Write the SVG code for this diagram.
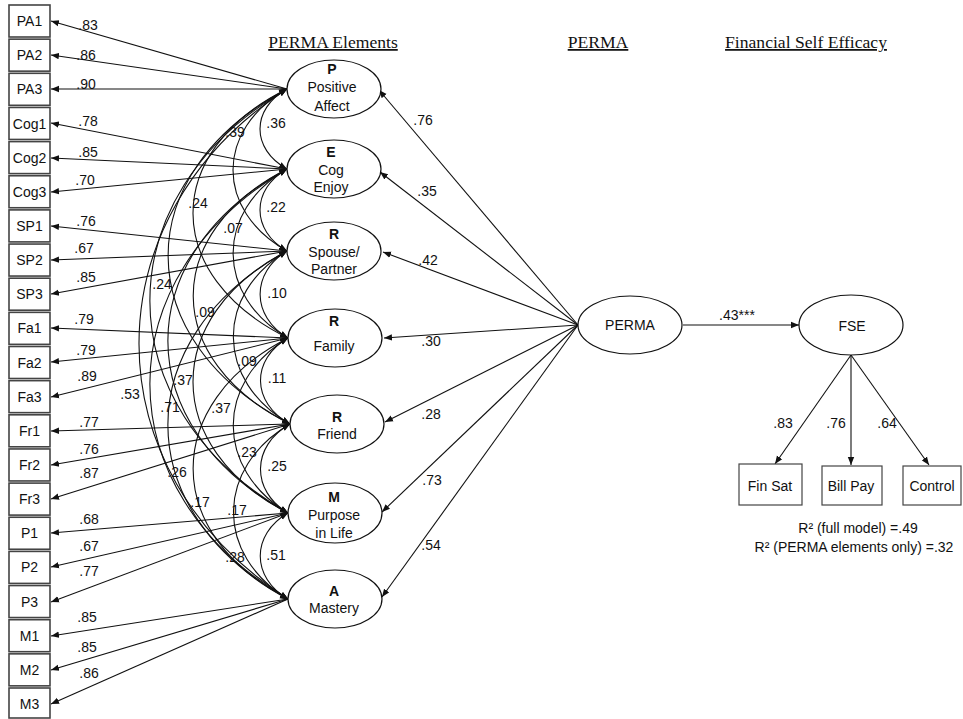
<svg xmlns="http://www.w3.org/2000/svg" width="963" height="719" viewBox="0 0 963 719">
<style>
text{font-family:"Liberation Sans",Arial,sans-serif;font-size:14px;fill:#111}
.hd{font-family:"Liberation Serif","Times New Roman",serif;font-size:17.6px;text-decoration:underline;text-anchor:middle}
.c{text-anchor:middle}
.b{font-weight:bold}
.box{fill:#fff;stroke:#444;stroke-width:1.6}
.el{fill:#fff;stroke:#111;stroke-width:1.2}
.ln{fill:none;stroke:#111;stroke-width:1.1}
.ld{marker-end:url(#ah)}
.cv{marker-start:url(#ah);marker-end:url(#ah)}
</style>
<defs>
<marker id="ah" viewBox="0 0 10 10" refX="10" refY="5" markerWidth="8" markerHeight="8" markerUnits="userSpaceOnUse" orient="auto-start-reverse"><path d="M0,1 L10,5 L0,9 z" fill="#111"/></marker>
</defs>
<rect width="963" height="719" fill="#fff"/>
<g id="headers">
<text class="hd" x="333" y="48">PERMA Elements</text>
<text class="hd" x="598" y="48">PERMA</text>
<text class="hd" x="806" y="48">Financial Self Efficacy</text>
</g>
<g id="connectors">
<g id="loadings" class="ln ld">
<path d="M287,89 L51,21"/><path d="M287,89 L51,55"/><path d="M287,89 L51,89"/>
<path d="M287,169 L51,123"/><path d="M287,169 L51,158"/><path d="M287,169 L51,192"/>
<path d="M287,251 L51,226"/><path d="M287,251 L51,260"/><path d="M287,251 L51,294"/>
<path d="M288,338 L51,328"/><path d="M288,338 L51,362"/><path d="M288,338 L51,397"/>
<path d="M290,424 L51,431"/><path d="M290,424 L51,465"/><path d="M290,424 L51,499"/>
<path d="M288,513 L51,533"/><path d="M288,513 L51,567"/><path d="M288,513 L51,602"/>
<path d="M288,599 L51,636"/><path d="M288,599 L51,670"/><path d="M288,599 L51,704"/>
</g>
<g id="covariances" class="ln cv">
<path d="M287,89 C251,109 251,149 287,169"/>
<path d="M287,169 C251,189.5 251,230.5 287,251"/>
<path d="M287,251 C251,272.75 251,316.25 288,338"/>
<path d="M288,338 C251,359.5 251,402.5 290,424"/>
<path d="M290,424 C251,446 251,491 288,513"/>
<path d="M288,513 C251,534.5 251,577.5 288,599"/>
<path d="M287,89 C215,129.5 215,210.5 287,251"/>
<path d="M287,169 C215,211 215,296 288,338"/>
<path d="M287,251 C215,294 215,381 290,424"/>
<path d="M288,338 C215,382 215,469 288,513"/>
<path d="M290,424 C215,468 215,555 288,599"/>
<path d="M287,89 C161.5,151 161.5,276 288,338"/>
<path d="M287,169 C161.5,233 161.5,360 290,424"/>
<path d="M287,251 C161.5,316.5 161.5,447.5 288,513"/>
<path d="M288,338 C161.5,403 161.5,534 288,599"/>
<path d="M287,89 C128,173 128,340 290,424"/>
<path d="M287,169 C128,255 128,427 288,513"/>
<path d="M287,251 C128,338 128,512 288,599"/>
<path d="M287,89 C104,195 104,407 288,513"/>
<path d="M287,169 C104,276.5 104,491.5 288,599"/>
<path d="M287,89 C89.5,216.5 89.5,471.5 288,599"/>
</g>
<g id="structural" class="ln ld">
<path d="M578,325 L379,90"/>
<path d="M578,325 L380,172"/>
<path d="M578,325 L383,252"/>
<path d="M578,325 L384,338"/>
<path d="M578,325 L385,422"/>
<path d="M578,325 L382,512"/>
<path d="M578,325 L382,597"/>
<path d="M683,325 L799,325"/>
<path d="M851,355 L775,464"/>
<path d="M851,355 L851,465"/>
<path d="M851,355 L929,465"/>
</g>
</g>
<g id="indicators">
<g id="PA1"><rect class="box" x="9" y="5" width="41" height="32"/><text class="c" x="29.5" y="26">PA1</text></g>
<g id="PA2"><rect class="box" x="9" y="39.15" width="41" height="32"/><text class="c" x="29.5" y="60">PA2</text></g>
<g id="PA3"><rect class="box" x="9" y="73.3" width="41" height="32"/><text class="c" x="29.5" y="94">PA3</text></g>
<g id="Cog1"><rect class="box" x="9" y="107.45" width="41" height="32"/><text class="c" x="29.5" y="128.5">Cog1</text></g>
<g id="Cog2"><rect class="box" x="9" y="141.6" width="41" height="32"/><text class="c" x="29.5" y="162.5">Cog2</text></g>
<g id="Cog3"><rect class="box" x="9" y="175.75" width="41" height="32"/><text class="c" x="29.5" y="196.5">Cog3</text></g>
<g id="SP1"><rect class="box" x="9" y="209.9" width="41" height="32"/><text class="c" x="29.5" y="231">SP1</text></g>
<g id="SP2"><rect class="box" x="9" y="244.05" width="41" height="32"/><text class="c" x="29.5" y="265">SP2</text></g>
<g id="SP3"><rect class="box" x="9" y="278.2" width="41" height="32"/><text class="c" x="29.5" y="299">SP3</text></g>
<g id="Fa1"><rect class="box" x="9" y="312.35" width="41" height="32"/><text class="c" x="29.5" y="333">Fa1</text></g>
<g id="Fa2"><rect class="box" x="9" y="346.5" width="41" height="32"/><text class="c" x="29.5" y="367.5">Fa2</text></g>
<g id="Fa3"><rect class="box" x="9" y="380.65" width="41" height="32"/><text class="c" x="29.5" y="401.5">Fa3</text></g>
<g id="Fr1"><rect class="box" x="9" y="414.8" width="41" height="32"/><text class="c" x="29.5" y="435.5">Fr1</text></g>
<g id="Fr2"><rect class="box" x="9" y="448.95" width="41" height="32"/><text class="c" x="29.5" y="470">Fr2</text></g>
<g id="Fr3"><rect class="box" x="9" y="483.1" width="41" height="32"/><text class="c" x="29.5" y="504">Fr3</text></g>
<g id="P1"><rect class="box" x="9" y="517.25" width="41" height="32"/><text class="c" x="29.5" y="538">P1</text></g>
<g id="P2"><rect class="box" x="9" y="551.4" width="41" height="32"/><text class="c" x="29.5" y="572">P2</text></g>
<g id="P3"><rect class="box" x="9" y="585.55" width="41" height="32"/><text class="c" x="29.5" y="606.5">P3</text></g>
<g id="M1"><rect class="box" x="9" y="619.7" width="41" height="32"/><text class="c" x="29.5" y="640.5">M1</text></g>
<g id="M2"><rect class="box" x="9" y="653.85" width="41" height="32"/><text class="c" x="29.5" y="674.5">M2</text></g>
<g id="M3"><rect class="box" x="9" y="688" width="41" height="30"/><text class="c" x="29.5" y="708.5">M3</text></g>
</g>
<g id="loading-labels" class="c">
<text x="88" y="30">.83</text><text x="86" y="60">.86</text><text x="86" y="89">.90</text>
<text x="88" y="126">.78</text><text x="88" y="157">.85</text><text x="85" y="185">.70</text>
<text x="86" y="226">.76</text><text x="84" y="253">.67</text><text x="86" y="282">.85</text>
<text x="84" y="324">.79</text><text x="86" y="355">.79</text><text x="87" y="381">.89</text>
<text x="89" y="427">.77</text><text x="89" y="454">.76</text><text x="89" y="478">.87</text>
<text x="89" y="524">.68</text><text x="89" y="551">.67</text><text x="89" y="576">.77</text>
<text x="87" y="622">.85</text><text x="87" y="652">.85</text><text x="89" y="678">.86</text>
</g>
<g id="covariance-labels" class="c">
<text x="276" y="128">.36</text><text x="235" y="137">.39</text><text x="198" y="208">.24</text>
<text x="276" y="212">.22</text><text x="233" y="233">.07</text><text x="162" y="289">.24</text>
<text x="277" y="298">.10</text><text x="205" y="317">.09</text><text x="247" y="366">.09</text>
<text x="277" y="383">.11</text><text x="183" y="385">.37</text><text x="130" y="399">.53</text>
<text x="170" y="412">.71</text><text x="221" y="413">.37</text><text x="247" y="457">.23</text>
<text x="277" y="471">.25</text><text x="177" y="477">.26</text><text x="200" y="507">.17</text>
<text x="237" y="515">.17</text><text x="235" y="562">.28</text><text x="276" y="560">.51</text>
</g>
<g id="structural-labels" class="c">
<text x="423" y="125">.76</text><text x="427" y="196">.35</text><text x="428" y="265">.42</text>
<text x="431" y="346">.30</text><text x="431" y="419">.28</text><text x="432" y="485">.73</text>
<text x="431" y="550">.54</text>
<text x="737" y="320">.43***</text>
<text x="783" y="428">.83</text><text x="836" y="428">.76</text><text x="887" y="428">.64</text>
</g>
<g id="P"><ellipse class="el" cx="334" cy="89" rx="47" ry="29"/><text class="c b" x="332" y="74">P</text><text class="c" x="332" y="92">Positive</text><text class="c" x="332" y="111">Affect</text></g>
<g id="E"><ellipse class="el" cx="334" cy="169" rx="47" ry="29"/><text class="c b" x="331" y="157">E</text><text class="c" x="331" y="175">Cog</text><text class="c" x="331" y="192">Enjoy</text></g>
<g id="R-spouse"><ellipse class="el" cx="334" cy="251" rx="47" ry="29"/><text class="c b" x="334" y="239">R</text><text class="c" x="334" y="257">Spouse/</text><text class="c" x="334" y="274">Partner</text></g>
<g id="R-family"><ellipse class="el" cx="335" cy="338" rx="47" ry="29"/><text class="c b" x="334" y="326">R</text><text class="c" x="334" y="351">Family</text></g>
<g id="R-friend"><ellipse class="el" cx="337" cy="424" rx="47" ry="29"/><text class="c b" x="337" y="422">R</text><text class="c" x="337" y="439">Friend</text></g>
<g id="M"><ellipse class="el" cx="335" cy="513" rx="47" ry="30"/><text class="c b" x="334" y="502">M</text><text class="c" x="334" y="520">Purpose</text><text class="c" x="334" y="538">in Life</text></g>
<g id="A"><ellipse class="el" cx="335" cy="599" rx="47" ry="29"/><text class="c b" x="334" y="596">A</text><text class="c" x="334" y="613">Mastery</text></g>
<g id="PERMA"><ellipse class="el" cx="630" cy="325" rx="52" ry="29"/><text class="c" x="630" y="330">PERMA</text></g>
<g id="FSE"><ellipse class="el" cx="851" cy="325" rx="52" ry="30"/><text class="c" x="852" y="331">FSE</text></g>
<g id="FinSat"><rect class="box" x="739" y="464" width="63" height="41" style="stroke-width:1.2"/><text class="c" x="770" y="491">Fin Sat</text></g>
<g id="BillPay"><rect class="box" x="822" y="466" width="60" height="39" style="stroke-width:1.2"/><text class="c" x="851" y="491">Bill Pay</text></g>
<g id="Control"><rect class="box" x="903" y="466" width="58" height="39" style="stroke-width:1.2"/><text class="c" x="932" y="491">Control</text></g>
<g id="r2" class="c">
<text x="858" y="533">R² (full model) =.49</text>
<text x="854" y="552">R² (PERMA elements only) =.32</text>
</g>
</svg>
